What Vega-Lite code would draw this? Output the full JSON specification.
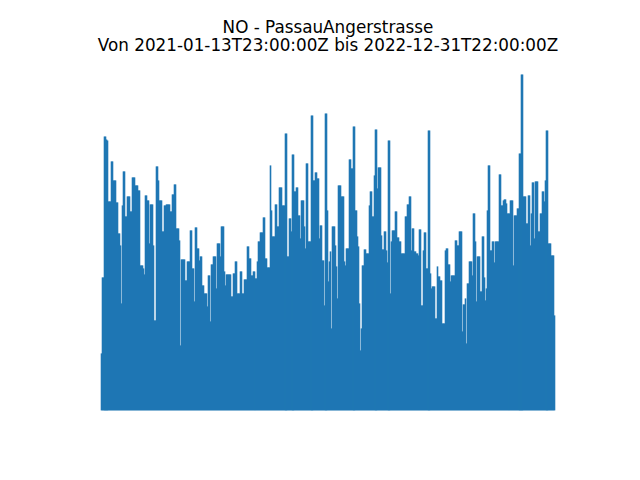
{
  "$schema": "https://vega.github.io/schema/vega-lite/v6.json",
  "autosize": "none",
  "width": 453,
  "height": 336,
  "padding": {"left": 101.5, "top": 74.4, "right": 85.5, "bottom": 69.6},
  "background": "white",
  "config": {"view": {"stroke": null}},
  "title": {
    "text": ["NO - PassauAngerstrasse", "Von 2021-01-13T23:00:00Z bis 2022-12-31T22:00:00Z"],
    "font": "DejaVu Sans",
    "fontSize": 16.8,
    "fontWeight": "normal",
    "color": "black",
    "lineHeight": 18,
    "anchor": "middle",
    "offset": 19
  },
  "data": {"values": [
{"i":101,"no":57},{"i":102,"no":133},{"i":103,"no":133},{"i":104,"no":274},{"i":105,"no":274},{"i":106,"no":271},{"i":107,"no":270},{"i":108,"no":209},{"i":109,"no":209},{"i":110,"no":209},
{"i":111,"no":249},{"i":112,"no":249},{"i":113,"no":230},{"i":114,"no":230},{"i":115,"no":230},{"i":116,"no":208},{"i":117,"no":208},{"i":118,"no":177},{"i":119,"no":177},{"i":120,"no":165},
{"i":121,"no":107},{"i":122,"no":205},{"i":123,"no":239},{"i":124,"no":239},{"i":125,"no":194},{"i":126,"no":194},{"i":127,"no":214},{"i":128,"no":214},{"i":129,"no":214},{"i":130,"no":199},
{"i":131,"no":199},{"i":132,"no":233},{"i":133,"no":233},{"i":134,"no":233},{"i":135,"no":225},{"i":136,"no":225},{"i":137,"no":225},{"i":138,"no":220},{"i":139,"no":220},{"i":140,"no":145},
{"i":141,"no":145},{"i":142,"no":145},{"i":143,"no":142},{"i":144,"no":136},{"i":145,"no":215},{"i":146,"no":215},{"i":147,"no":210},{"i":148,"no":210},{"i":149,"no":167},{"i":150,"no":206},
{"i":151,"no":206},{"i":152,"no":206},{"i":153,"no":165},{"i":154,"no":90},{"i":155,"no":90},{"i":156,"no":244},{"i":157,"no":244},{"i":158,"no":230},{"i":159,"no":210},{"i":160,"no":210},
{"i":161,"no":210},{"i":162,"no":179},{"i":163,"no":179},{"i":164,"no":205},{"i":165,"no":205},{"i":166,"no":206},{"i":167,"no":206},{"i":168,"no":206},{"i":169,"no":206},{"i":170,"no":199},
{"i":171,"no":199},{"i":172,"no":216},{"i":173,"no":216},{"i":174,"no":226},{"i":175,"no":226},{"i":176,"no":182},{"i":177,"no":182},{"i":178,"no":182},{"i":179,"no":170},{"i":180,"no":65},
{"i":181,"no":151},{"i":182,"no":151},{"i":183,"no":151},{"i":184,"no":151},{"i":185,"no":130},{"i":186,"no":130},{"i":187,"no":149},{"i":188,"no":149},{"i":189,"no":149},{"i":190,"no":180},
{"i":191,"no":180},{"i":192,"no":142},{"i":193,"no":142},{"i":194,"no":109},{"i":195,"no":183},{"i":196,"no":183},{"i":197,"no":162},{"i":198,"no":162},{"i":199,"no":150},{"i":200,"no":154},
{"i":201,"no":154},{"i":202,"no":125},{"i":203,"no":125},{"i":204,"no":117},{"i":205,"no":117},{"i":206,"no":117},{"i":207,"no":104},{"i":208,"no":135},{"i":209,"no":135},{"i":210,"no":89},
{"i":211,"no":146},{"i":212,"no":146},{"i":213,"no":154},{"i":214,"no":154},{"i":215,"no":154},{"i":216,"no":122},{"i":217,"no":167},{"i":218,"no":167},{"i":219,"no":167},{"i":220,"no":154},
{"i":221,"no":184},{"i":222,"no":184},{"i":223,"no":184},{"i":224,"no":139},{"i":225,"no":125},{"i":226,"no":136},{"i":227,"no":136},{"i":228,"no":136},{"i":229,"no":136},{"i":230,"no":136},
{"i":231,"no":114},{"i":232,"no":114},{"i":233,"no":137},{"i":234,"no":137},{"i":235,"no":149},{"i":236,"no":149},{"i":237,"no":117},{"i":238,"no":117},{"i":239,"no":117},{"i":240,"no":139},
{"i":241,"no":139},{"i":242,"no":117},{"i":243,"no":117},{"i":244,"no":131},{"i":245,"no":131},{"i":246,"no":131},{"i":247,"no":164},{"i":248,"no":164},{"i":249,"no":152},{"i":250,"no":152},
{"i":251,"no":135},{"i":252,"no":135},{"i":253,"no":139},{"i":254,"no":139},{"i":255,"no":132},{"i":256,"no":132},{"i":257,"no":149},{"i":258,"no":169},{"i":259,"no":169},{"i":260,"no":178},
{"i":261,"no":178},{"i":262,"no":178},{"i":263,"no":193},{"i":264,"no":193},{"i":265,"no":152},{"i":266,"no":152},{"i":267,"no":143},{"i":268,"no":143},{"i":269,"no":143},{"i":270,"no":245},
{"i":271,"no":200},{"i":272,"no":174},{"i":273,"no":174},{"i":274,"no":174},{"i":275,"no":206},{"i":276,"no":206},{"i":277,"no":184},{"i":278,"no":184},{"i":279,"no":223},{"i":280,"no":223},
{"i":281,"no":223},{"i":282,"no":205},{"i":283,"no":205},{"i":284,"no":205},{"i":285,"no":277},{"i":286,"no":277},{"i":287,"no":154},{"i":288,"no":154},{"i":289,"no":192},{"i":290,"no":192},
{"i":291,"no":179},{"i":292,"no":256},{"i":293,"no":256},{"i":294,"no":219},{"i":295,"no":219},{"i":296,"no":223},{"i":297,"no":223},{"i":298,"no":195},{"i":299,"no":195},{"i":300,"no":172},
{"i":301,"no":210},{"i":302,"no":210},{"i":303,"no":210},{"i":304,"no":184},{"i":305,"no":162},{"i":306,"no":247},{"i":307,"no":247},{"i":308,"no":169},{"i":309,"no":169},{"i":310,"no":169},
{"i":311,"no":295},{"i":312,"no":295},{"i":313,"no":230},{"i":314,"no":230},{"i":315,"no":238},{"i":316,"no":238},{"i":317,"no":232},{"i":318,"no":232},{"i":319,"no":172},{"i":320,"no":185},
{"i":321,"no":185},{"i":322,"no":150},{"i":323,"no":150},{"i":324,"no":105},{"i":325,"no":297},{"i":326,"no":297},{"i":327,"no":200},{"i":328,"no":129},{"i":329,"no":149},{"i":330,"no":159},
{"i":331,"no":82},{"i":332,"no":184},{"i":333,"no":184},{"i":334,"no":184},{"i":335,"no":165},{"i":336,"no":144},{"i":337,"no":112},{"i":338,"no":225},{"i":339,"no":225},{"i":340,"no":225},
{"i":341,"no":214},{"i":342,"no":214},{"i":343,"no":214},{"i":344,"no":149},{"i":345,"no":145},{"i":346,"no":162},{"i":347,"no":162},{"i":348,"no":162},{"i":349,"no":251},{"i":350,"no":251},
{"i":351,"no":242},{"i":352,"no":242},{"i":353,"no":284},{"i":354,"no":284},{"i":355,"no":200},{"i":356,"no":200},{"i":357,"no":174},{"i":358,"no":164},{"i":359,"no":107},{"i":360,"no":60},
{"i":361,"no":82},{"i":362,"no":145},{"i":363,"no":145},{"i":364,"no":161},{"i":365,"no":161},{"i":366,"no":157},{"i":367,"no":157},{"i":368,"no":157},{"i":369,"no":205},{"i":370,"no":219},
{"i":371,"no":219},{"i":372,"no":194},{"i":373,"no":194},{"i":374,"no":235},{"i":375,"no":281},{"i":376,"no":281},{"i":377,"no":222},{"i":378,"no":243},{"i":379,"no":243},{"i":380,"no":243},
{"i":381,"no":175},{"i":382,"no":161},{"i":383,"no":161},{"i":384,"no":179},{"i":385,"no":179},{"i":386,"no":160},{"i":387,"no":148},{"i":388,"no":270},{"i":389,"no":270},{"i":390,"no":117},
{"i":391,"no":169},{"i":392,"no":180},{"i":393,"no":180},{"i":394,"no":180},{"i":395,"no":199},{"i":396,"no":199},{"i":397,"no":173},{"i":398,"no":173},{"i":399,"no":169},{"i":400,"no":169},
{"i":401,"no":157},{"i":402,"no":157},{"i":403,"no":157},{"i":404,"no":157},{"i":405,"no":194},{"i":406,"no":194},{"i":407,"no":206},{"i":408,"no":206},{"i":409,"no":214},{"i":410,"no":214},
{"i":411,"no":160},{"i":412,"no":182},{"i":413,"no":182},{"i":414,"no":159},{"i":415,"no":159},{"i":416,"no":157},{"i":417,"no":157},{"i":418,"no":155},{"i":419,"no":181},{"i":420,"no":181},
{"i":421,"no":105},{"i":422,"no":105},{"i":423,"no":160},{"i":424,"no":178},{"i":425,"no":178},{"i":426,"no":142},{"i":427,"no":142},{"i":428,"no":280},{"i":429,"no":280},{"i":430,"no":137},
{"i":431,"no":122},{"i":432,"no":124},{"i":433,"no":124},{"i":434,"no":124},{"i":435,"no":92},{"i":436,"no":92},{"i":437,"no":144},{"i":438,"no":134},{"i":439,"no":134},{"i":440,"no":130},
{"i":441,"no":130},{"i":442,"no":87},{"i":443,"no":87},{"i":444,"no":87},{"i":445,"no":160},{"i":446,"no":162},{"i":447,"no":162},{"i":448,"no":146},{"i":449,"no":146},{"i":450,"no":129},
{"i":451,"no":135},{"i":452,"no":135},{"i":453,"no":135},{"i":454,"no":135},{"i":455,"no":170},{"i":456,"no":170},{"i":457,"no":165},{"i":458,"no":165},{"i":459,"no":179},{"i":460,"no":179},
{"i":461,"no":179},{"i":462,"no":79},{"i":463,"no":106},{"i":464,"no":106},{"i":465,"no":112},{"i":466,"no":67},{"i":467,"no":127},{"i":468,"no":127},{"i":469,"no":149},{"i":470,"no":149},
{"i":471,"no":149},{"i":472,"no":135},{"i":473,"no":197},{"i":474,"no":197},{"i":475,"no":169},{"i":476,"no":109},{"i":477,"no":154},{"i":478,"no":154},{"i":479,"no":154},{"i":480,"no":119},
{"i":481,"no":119},{"i":482,"no":174},{"i":483,"no":174},{"i":484,"no":133},{"i":485,"no":110},{"i":486,"no":122},{"i":487,"no":200},{"i":488,"no":245},{"i":489,"no":245},{"i":490,"no":160},
{"i":491,"no":160},{"i":492,"no":169},{"i":493,"no":169},{"i":494,"no":148},{"i":495,"no":169},{"i":496,"no":169},{"i":497,"no":169},{"i":498,"no":169},{"i":499,"no":236},{"i":500,"no":236},
{"i":501,"no":205},{"i":502,"no":205},{"i":503,"no":210},{"i":504,"no":211},{"i":505,"no":211},{"i":506,"no":207},{"i":507,"no":197},{"i":508,"no":197},{"i":509,"no":197},{"i":510,"no":210},
{"i":511,"no":210},{"i":512,"no":210},{"i":513,"no":145},{"i":514,"no":195},{"i":515,"no":195},{"i":516,"no":195},{"i":517,"no":202},{"i":518,"no":202},{"i":519,"no":257},{"i":520,"no":257},
{"i":521,"no":336},{"i":522,"no":336},{"i":523,"no":214},{"i":524,"no":214},{"i":525,"no":214},{"i":526,"no":187},{"i":527,"no":187},{"i":528,"no":215},{"i":529,"no":215},{"i":530,"no":165},
{"i":531,"no":197},{"i":532,"no":228},{"i":533,"no":228},{"i":534,"no":172},{"i":535,"no":229},{"i":536,"no":229},{"i":537,"no":229},{"i":538,"no":179},{"i":539,"no":179},{"i":540,"no":197},
{"i":541,"no":197},{"i":542,"no":219},{"i":543,"no":219},{"i":544,"no":209},{"i":545,"no":230},{"i":546,"no":280},{"i":547,"no":280},{"i":548,"no":167},{"i":549,"no":167},{"i":550,"no":167},
{"i":551,"no":155},{"i":552,"no":155},{"i":553,"no":155},{"i":554,"no":95}
  ]},
  "mark": {"type": "rule", "color": "#1f77b4", "strokeWidth": 1.6},
  "encoding": {
    "x": {"field": "i", "type": "quantitative", "axis": null, "scale": {"domain": [101, 554], "nice": false, "zero": false}},
    "y": {"field": "no", "type": "quantitative", "axis": null, "scale": {"domain": [0, 336], "nice": false}},
    "y2": {"datum": 0}
  }
}
